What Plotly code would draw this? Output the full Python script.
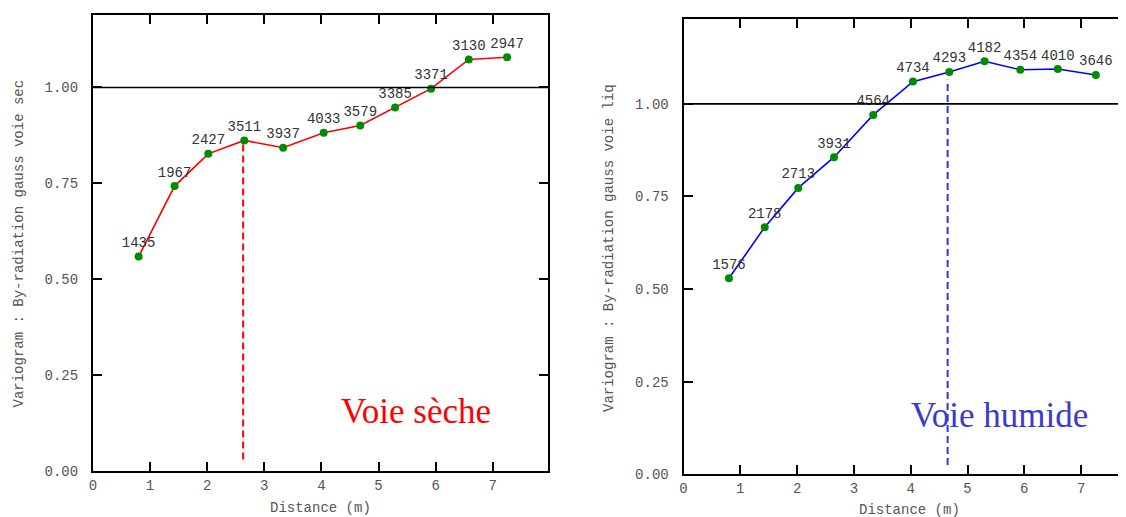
import plotly.graph_objects as go

# ---------------- data ----------------
dist_sec = [0.80, 1.43, 2.02, 2.65, 3.33, 4.04, 4.68, 5.29, 5.92, 6.58, 7.25]
gamma_sec = [0.559, 0.743, 0.827, 0.862, 0.843, 0.882, 0.901, 0.948, 0.997, 1.073, 1.079]
pairs_sec = [1435, 1967, 2427, 3511, 3937, 4033, 3579, 3385, 3371, 3130, 2947]
range_sec = 2.63
range_sec_y = [0.03, 0.862]

dist_liq = [0.80, 1.43, 2.02, 2.65, 3.34, 4.04, 4.68, 5.30, 5.93, 6.59, 7.26]
gamma_liq = [0.529, 0.667, 0.773, 0.856, 0.970, 1.060, 1.086, 1.115, 1.092, 1.094, 1.078]
pairs_liq = [1576, 2178, 2713, 3931, 4564, 4734, 4293, 4182, 4354, 4010, 3646]
range_liq = 4.65
range_liq_y = [0.025, 1.065]

sill = 1.0
x_ticks = [0, 1, 2, 3, 4, 5, 6, 7]
y_ticks = [0.0, 0.25, 0.5, 0.75, 1.0]

# page has an 8px body margin: size the figure so it fills the window
OFF = 8
W, H = 1126 - OFF, 517 - OFF
MONO = "Liberation Mono"
GRAY = "#555555"


def px(x):  # window pixel -> paper x
    return (x - OFF) / W


def py(y):  # window pixel -> paper y
    return 1 - (y - OFF) / H


fig = go.Figure()

# left panel
fig.add_trace(go.Scatter(
    x=[range_sec, range_sec], y=range_sec_y, mode="lines",
    line=dict(color="#ff0000", width=2, dash="7px,4px"),
    xaxis="x", yaxis="y", hoverinfo="skip", showlegend=False))
fig.add_trace(go.Scatter(
    x=dist_sec, y=gamma_sec, mode="lines+markers+text",
    text=[str(n) for n in pairs_sec], textposition="top center",
    textfont=dict(family=MONO, size=14, color="#333333"),
    line=dict(color="#ff0000", width=1.6),
    marker=dict(color="#008c00", size=8),
    xaxis="x", yaxis="y", cliponaxis=False, showlegend=False))

# right panel
fig.add_trace(go.Scatter(
    x=[range_liq, range_liq], y=range_liq_y, mode="lines",
    line=dict(color="#3333cc", width=2, dash="7px,4px"),
    xaxis="x2", yaxis="y2", hoverinfo="skip", showlegend=False))
fig.add_trace(go.Scatter(
    x=dist_liq, y=gamma_liq, mode="lines+markers+text",
    text=[str(n) for n in pairs_liq], textposition="top center",
    textfont=dict(family=MONO, size=14, color="#333333"),
    line=dict(color="#0000ff", width=1.6),
    marker=dict(color="#008c00", size=8),
    xaxis="x2", yaxis="y2", cliponaxis=False, showlegend=False))

axis_common = dict(
    showline=True, linecolor="black", linewidth=2,
    ticks="inside", ticklen=9, tickwidth=1.5, tickcolor="black",
    showgrid=False, zeroline=False, automargin=False,
    tickfont=dict(family=MONO, size=14, color=GRAY),
)

fig.update_layout(
    width=W, height=H,
    margin=dict(l=0, r=0, t=0, b=0, pad=0),
    paper_bgcolor="white", plot_bgcolor="white",
    showlegend=False,
    xaxis=dict(domain=[px(92.9), px(548.2)], range=[0, 7.97], anchor="y",
               tickvals=x_ticks, mirror="ticks", **axis_common),
    yaxis=dict(domain=[py(471), py(15)], range=[0, 1.189], anchor="x",
               tickvals=y_ticks, tickformat=".2f", mirror="ticks",
               ticklabelstandoff=10, **axis_common),
    xaxis2=dict(domain=[px(683.5), 1.0], range=[0, (1126 - 683.5) / 56.8], anchor="y2",
                tickvals=x_ticks, mirror="ticks", **axis_common),
    yaxis2=dict(domain=[py(474.3), py(19)], range=[0, 1.229], anchor="x2",
                tickvals=y_ticks, tickformat=".2f", mirror=False,
                ticklabelstandoff=10, **axis_common),
)

# sill lines
fig.add_shape(type="line", xref="x domain", yref="y", x0=0, x1=1, y0=sill, y1=sill,
              line=dict(color="black", width=1.6))
fig.add_shape(type="line", xref="x2 domain", yref="y2", x0=0, x1=1, y0=sill, y1=sill,
              line=dict(color="black", width=1.6))

# panel labels
fig.add_annotation(x=5.66, y=0.154, xref="x", yref="y", text="Voie sèche", showarrow=False,
                   font=dict(family="Liberation Serif", size=35, color="#ff0000"))
fig.add_annotation(x=5.57, y=0.16, xref="x2", yref="y2", text="Voie humide", showarrow=False,
                   font=dict(family="Liberation Serif", size=35, color="#3a3acc"))

# axis titles
title_font = dict(family=MONO, size=14, color=GRAY)
fig.add_annotation(x=px(320), y=py(508), xref="paper", yref="paper", text="Distance (m)",
                   showarrow=False, font=title_font, xanchor="center", yanchor="middle")
fig.add_annotation(x=px(909.6), y=py(510), xref="paper", yref="paper", text="Distance (m)",
                   showarrow=False, font=title_font, xanchor="center", yanchor="middle")
fig.add_annotation(x=px(18), y=py(243.5), xref="paper", yref="paper",
                   text="Variogram : By-radiation gauss voie sec", textangle=-90,
                   showarrow=False, font=title_font, xanchor="center", yanchor="middle")
fig.add_annotation(x=px(609), y=py(248), xref="paper", yref="paper",
                   text="Variogram : By-radiation gauss voie liq", textangle=-90,
                   showarrow=False, font=title_font, xanchor="center", yanchor="middle")

fig.write_html("out.html")
